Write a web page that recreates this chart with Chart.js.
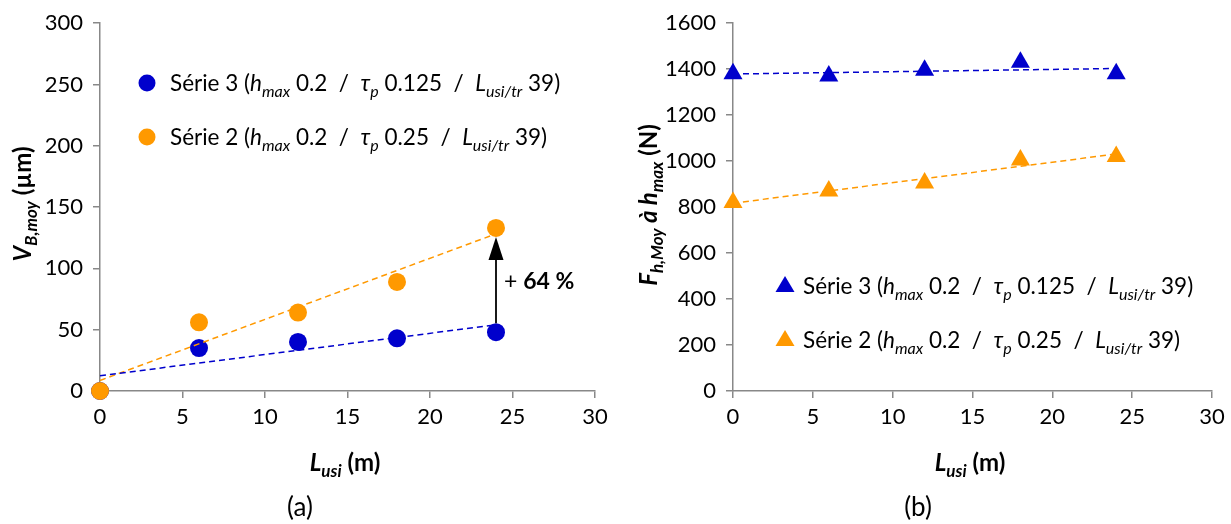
<!DOCTYPE html>
<html>
<head>
<meta charset="utf-8">
<script src="https://cdn.jsdelivr.net/npm/chart.js@4"></script>
<style>
  body { margin: 0; background: #fff; }
  #wrap { position: relative; width: 1231px; height: 524px; }
  canvas { position: absolute; top: 0; }
</style>
</head>
<body>
<div id="wrap">
  <canvas id="chartA" width="615" height="524" style="left:0"></canvas>
  <canvas id="chartB" width="616" height="524" style="left:615px"></canvas>
</div>
<script>
// data
const lusi = [0, 6, 12, 18, 24];
const vbSerie3 = [0, 35, 40, 43, 48];
const vbSerie2 = [0, 56, 64, 89, 133];
const fhSerie3 = [1380, 1370, 1395, 1430, 1380];
const fhSerie2 = [820, 870, 905, 1005, 1020];
const xRange = [0, 30, 5];
const vbRange = [0, 300, 50];
const fhRange = [0, 1600, 200];

const FONT = "Lato";
const BLUE = "#0000CC";
const ORANGE = "#FF9900";
const AXIS = "#888888";

// least squares trend line, like the spreadsheet one
function trend(xs, ys) {
  const n = xs.length;
  const mx = xs.reduce((a, b) => a + b, 0) / n;
  const my = ys.reduce((a, b) => a + b, 0) / n;
  let sxy = 0, sxx = 0;
  for (let i = 0; i < n; i++) {
    sxy += (xs[i] - mx) * (ys[i] - my);
    sxx += (xs[i] - mx) * (xs[i] - mx);
  }
  const m = sxy / sxx, b = my - m * mx;
  const x0 = xs[0], x1 = xs[n - 1];
  return [{ x: x0, y: m * x0 + b }, { x: x1, y: m * x1 + b }];
}

function pts(xs, ys) {
  return xs.map((x, i) => ({ x: x, y: ys[i] }));
}

// text pieces: {t, w (bold), i (italic), s (subscript)}
function partFont(p, size) {
  const sz = p.s ? Math.round(size * 0.7) : size;
  return (p.i ? "italic " : "") + (p.w ? "bold " : "") + sz + "px " + FONT;
}
function richWidth(ctx, parts, size) {
  let w = 0;
  parts.forEach(p => { ctx.font = partFont(p, size); w += ctx.measureText(p.t).width; });
  return w;
}
function drawRich(ctx, parts, x, y, size, align) {
  let cx = x;
  if (align === "center") cx = x - richWidth(ctx, parts, size) / 2;
  ctx.textBaseline = "alphabetic";
  ctx.textAlign = "left";
  ctx.fillStyle = "#000";
  parts.forEach(p => {
    ctx.font = partFont(p, size);
    ctx.fillText(p.t, cx, y + (p.s ? size * 0.25 : 0));
    cx += ctx.measureText(p.t).width;
  });
}

function legendParts(serie, tau) {
  return [
    { t: "Série " + serie + " (" }, { t: "h", i: 1 }, { t: "max", i: 1, s: 1 },
    { t: " 0.2  /  " }, { t: "τ", i: 1 }, { t: "p", i: 1, s: 1 },
    { t: " " + tau + "  /  " }, { t: "L", i: 1 }, { t: "usi/tr", i: 1, s: 1 },
    { t: " 39)" }
  ];
}

function scales(yr, yWidth) {
  const grid = { drawOnChartArea: false, drawTicks: true, tickLength: 7, color: AXIS, lineWidth: 1.5 };
  const border = { color: AXIS, width: 1.5 };
  const tickFont = { family: FONT, size: 22 };
  return {
    x: {
      type: "linear", min: xRange[0], max: xRange[1], grid: grid, border: border,
      ticks: { stepSize: xRange[2], padding: 6, maxRotation: 0, color: "#000", font: tickFont },
      afterFit: s => { s.height = 133; }
    },
    y: {
      type: "linear", min: yr[0], max: yr[1], grid: grid, border: border,
      ticks: { stepSize: yr[2], padding: 10, color: "#000", font: tickFont,
        callback: v => String(v) },
      afterFit: s => { s.width = yWidth; }
    }
  };
}

function makeChart(id, s3, s2, yr, yWidth, rightPad, style, radius, extra) {
  const ctx = document.getElementById(id).getContext("2d");
  return new Chart(ctx, {
    type: "scatter",
    data: {
      datasets: [
        { data: trend(lusi, s3), showLine: true, borderColor: BLUE, borderWidth: 1.5,
          borderDash: [6, 4], pointRadius: 0, order: 0, clip: false },
        { data: trend(lusi, s2), showLine: true, borderColor: ORANGE, borderWidth: 1.5,
          borderDash: [6, 4], pointRadius: 0, order: 0, clip: false },
        { data: pts(lusi, s2), pointStyle: style, pointRadius: radius, backgroundColor: ORANGE,
          borderColor: ORANGE, borderWidth: 0, order: 1, clip: false },
        { data: pts(lusi, s3), pointStyle: style, pointRadius: radius, backgroundColor: BLUE,
          borderColor: BLUE, borderWidth: 0, order: 2, clip: false }
      ]
    },
    options: {
      responsive: false,
      animation: false,
      layout: { padding: { left: 0, right: rightPad, top: 18, bottom: 0 } },
      plugins: { legend: { display: false }, tooltip: { enabled: false } },
      scales: scales(yr, yWidth)
    },
    plugins: [{ id: "extras", afterDraw: extra }]
  });
}

// (a) tool wear
makeChart("chartA", vbSerie3, vbSerie2, vbRange, 100, 20, "circle", 9, chart => {
  const c = chart.ctx;
  const area = chart.chartArea;
  c.save();
  [[BLUE, "3", "0.125", 83], [ORANGE, "2", "0.25", 137]].forEach(l => {
    c.fillStyle = l[0];
    c.beginPath(); c.arc(147, l[3], 8.5, 0, Math.PI * 2); c.fill();
    drawRich(c, legendParts(l[1], l[2]), 170, l[3] + 8, 22.5);
  });
  // +64 % arrow between the last two points
  const xs = chart.scales.x, ys = chart.scales.y;
  const last = lusi.length - 1;
  const px = xs.getPixelForValue(lusi[last]);
  const yLow = ys.getPixelForValue(vbSerie3[last]) - 9;
  const yTop = ys.getPixelForValue(vbSerie2[last]) + 9;
  c.strokeStyle = "#000"; c.fillStyle = "#000"; c.lineWidth = 1.8;
  c.beginPath(); c.moveTo(px, yLow); c.lineTo(px, yTop + 20); c.stroke();
  c.beginPath(); c.moveTo(px, yTop); c.lineTo(px - 7.5, yTop + 23); c.lineTo(px + 7.5, yTop + 23); c.closePath(); c.fill();
  drawRich(c, [{ t: "+ " }, { t: "64 %", w: 1 }], px + 8, (yLow + yTop) / 2 + 9, 23);
  // axis titles
  drawRich(c, [{ t: "L", w: 1, i: 1 }, { t: "usi", w: 1, i: 1, s: 1 }, { t: " (m)", w: 1 }],
    345, 471, 24, "center");
  c.translate(31, 204);
  c.rotate(-Math.PI / 2);
  drawRich(c, [{ t: "V", w: 1, i: 1 }, { t: "B,moy", w: 1, i: 1, s: 1 }, { t: " (µm)", w: 1 }],
    0, 0, 24, "center");
  c.restore();
  c.save();
  c.font = "26px " + FONT; c.fillStyle = "#000"; c.textAlign = "center"; c.textBaseline = "middle";
  c.fillText("(a)", 300, 508);
  c.restore();
});

// (b) cutting force
makeChart("chartB", fhSerie3, fhSerie2, fhRange, 118, 19, "triangle", 11, chart => {
  const c = chart.ctx;
  c.save();
  [[BLUE, "3", "0.125", 286], [ORANGE, "2", "0.25", 340]].forEach(l => {
    c.fillStyle = l[0];
    c.beginPath(); c.moveTo(170, l[3] - 10); c.lineTo(179.5, l[3] + 6); c.lineTo(160.5, l[3] + 6); c.closePath(); c.fill();
    drawRich(c, legendParts(l[1], l[2]), 188, l[3] + 8, 22.5);
  });
  drawRich(c, [{ t: "L", w: 1, i: 1 }, { t: "usi", w: 1, i: 1, s: 1 }, { t: " (m)", w: 1 }],
    355, 471, 24, "center");
  c.translate(42, 205);
  c.rotate(-Math.PI / 2);
  drawRich(c, [{ t: "F", w: 1, i: 1 }, { t: "h,Moy", w: 1, i: 1, s: 1 }, { t: " à ", w: 1, i: 1 },
    { t: "h", w: 1, i: 1 }, { t: "max", w: 1, i: 1, s: 1 }, { t: " (N)", w: 1 }], 0, 0, 24, "center");
  c.restore();
  c.save();
  c.font = "26px " + FONT; c.fillStyle = "#000"; c.textAlign = "center"; c.textBaseline = "middle";
  c.fillText("(b)", 303, 508);
  c.restore();
});
</script>
</body>
</html>
